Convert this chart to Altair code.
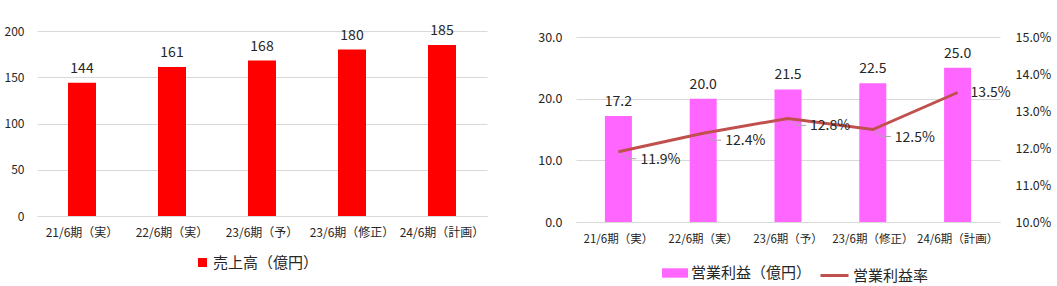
import altair as alt
import pandas as pd

categories = ["21/6期（実）", "22/6期（実）", "23/6期（予）", "23/6期（修正）", "24/6期（計画）"]
sales = [144, 161, 168, 180, 185]
op_profit = [17.2, 20.0, 21.5, 22.5, 25.0]
op_margin = [0.119, 0.124, 0.128, 0.125, 0.135]

FONT = "Noto Sans CJK JP"
TXT = "#262626"
GRID = "#D9D9D9"
H_LEFT = 185
H_RIGHT = 191
SHIFT = 6

df = pd.DataFrame({
    "cat": categories,
    "sales": sales,
    "profit": op_profit,
    "margin": op_margin,
    "s1": "売上高（億円）",
    "s2": "営業利益（億円）",
    "s3": "営業利益率",
})


def xenc(fs):
    return alt.X(
        "cat:N", sort=categories, title=None,
        scale=alt.Scale(paddingInner=0, paddingOuter=0),
        axis=alt.Axis(labelAngle=0, labelFontSize=fs, labelPadding=11, ticks=False,
                      domainColor=GRID, labelColor=TXT, labelFont=FONT, grid=False,
                      labelOverlap=False),
    )


def y_sales():
    return alt.Y("sales:Q", title=None, scale=alt.Scale(domain=[0, 200]),
                 axis=alt.Axis(values=[0, 50, 100, 150, 200], domain=False, ticks=False,
                               gridColor=GRID, labelFontSize=12, labelPadding=13,
                               labelColor=TXT, labelFont=FONT))


def y_profit():
    return alt.Y("profit:Q", title=None,
                 scale=alt.Scale(domain=[0, 30], range=[H_RIGHT, SHIFT]),
                 axis=alt.Axis(values=[0, 10, 20, 30], format=".1f", domain=False, ticks=False,
                               gridColor=GRID, labelFontSize=12.5, labelPadding=14,
                               labelColor=TXT, labelFont=FONT))


def y_margin():
    return alt.Y("margin:Q", title=None,
                 scale=alt.Scale(domain=[0.10, 0.15], range=[H_RIGHT, SHIFT]),
                 axis=alt.Axis(orient="right", values=[0.10, 0.11, 0.12, 0.13, 0.14, 0.15],
                               format=".1%", domain=False, ticks=False, grid=False,
                               labelFontSize=12.5, labelPadding=15, labelColor=TXT,
                               labelFont=FONT))


def legend(lx, ly):
    return dict(orient="none", legendX=lx, legendY=ly, labelFontSize=15, labelFont=FONT,
                labelColor=TXT, labelOffset=3)


base = alt.Chart(df)

# ---------------- left chart ----------------
bars1 = base.mark_bar(size=28).encode(
    x=xenc(12), y=y_sales(),
    fill=alt.Fill("s1:N", title=None, scale=alt.Scale(range=["#FF0000"]),
                  legend=alt.Legend(symbolType="square", symbolSize=81,
                                    symbolStrokeWidth=0, **legend(158, 224))),
)
text1 = base.mark_text(dy=-10, baseline="alphabetic", fontSize=14, font=FONT, color=TXT).encode(
    x=xenc(12), y=y_sales(), text="sales:Q")

left = alt.layer(bars1, text1).properties(width=450, height=H_LEFT)

# ---------------- right chart ----------------
bars2 = base.mark_bar(size=27).encode(
    x=xenc(11.5), y=y_profit(),
    fill=alt.Fill("s2:N", title=None, scale=alt.Scale(range=["#FF66FF"]),
                  legend=alt.Legend(symbolType="M-1,-0.36H1V0.36H-1Z", symbolSize=676,
                                    symbolStrokeWidth=0, **legend(86, 229))),
)
text2 = base.mark_text(dy=-10, baseline="alphabetic", fontSize=14, font=FONT, color=TXT).encode(
    x=xenc(11.5), y=y_profit(), text=alt.Text("profit:Q", format=".1f"))

line = base.mark_line(strokeWidth=3).encode(
    x=xenc(11.5), y=y_margin(),
    stroke=alt.Stroke("s3:N", title=None, scale=alt.Scale(range=["#C0504D"]),
                      legend=alt.Legend(symbolType="stroke", symbolSize=784,
                                        symbolStrokeWidth=3, **legend(243, 229))),
)
last = categories[-1]
lab_a = base.mark_text(align="left", baseline="middle", dx=22, dy=8, fontSize=14,
                       font=FONT, color=TXT).encode(
    x=xenc(11.5), y=y_margin(), text=alt.Text("margin:Q", format=".1%")
).transform_filter(alt.datum.cat != last)
lab_b = base.mark_text(align="left", baseline="middle", dx=13, dy=0, fontSize=14,
                       font=FONT, color=TXT).encode(
    x=xenc(11.5), y=y_margin(), text=alt.Text("margin:Q", format=".1%")
).transform_filter(alt.datum.cat == last)
lead1 = base.mark_rule(color="#A6A6A6", strokeWidth=1, x2Offset=9, y2Offset=7).encode(
    x=xenc(11.5), x2="cat:N", y=y_margin(), y2="margin:Q"
).transform_filter(alt.datum.cat != last)
lead2 = base.mark_rule(color="#A6A6A6", strokeWidth=1, xOffset=9, yOffset=7,
                       x2Offset=18, y2Offset=7).encode(
    x=xenc(11.5), x2="cat:N", y=y_margin(), y2="margin:Q"
).transform_filter(alt.datum.cat != last)

left_layer = alt.layer(bars2, text2)
right_layer = alt.layer(lead1, lead2, line, lab_a, lab_b)
right = alt.layer(left_layer, right_layer).resolve_scale(y="independent").properties(
    width=424, height=H_RIGHT)

chart = alt.hconcat(left, right, spacing=50).resolve_scale(
    y="independent", fill="independent", stroke="independent"
).resolve_legend(fill="independent", stroke="independent").properties(
    padding={"left": 4, "top": 23, "right": 5, "bottom": 0}
).configure(font=FONT).configure_view(stroke=None)

chart.save("out.html", embed_options={"renderer": "svg", "actions": False})
